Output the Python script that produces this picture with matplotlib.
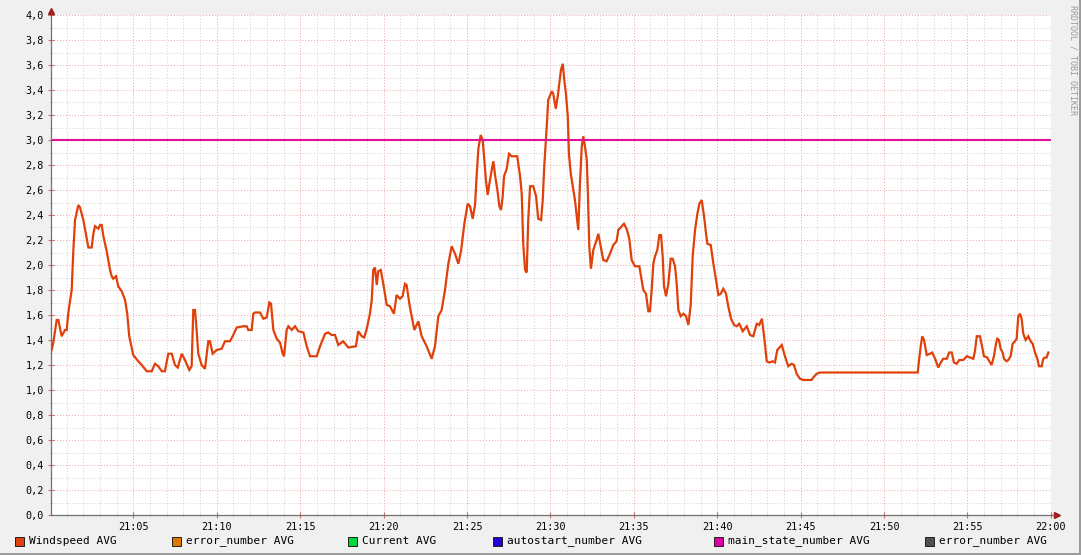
import matplotlib
matplotlib.use('Agg')
import matplotlib.pyplot as plt
import matplotlib.patches as mpatches
from matplotlib.ticker import MultipleLocator, FuncFormatter

plt.rcParams['font.family'] = ['DejaVu Sans Mono']

# ── data: minutes after 21:00, windspeed ─────────────────────────
minutes = [
    0.10, 0.20, 0.40, 0.50, 0.70, 0.90, 1.00, 1.10, 1.30, 1.40,
    1.50, 1.70, 1.80, 2.00, 2.20, 2.30, 2.50, 2.60, 2.70, 2.90,
    3.00, 3.10, 3.20, 3.40, 3.60, 3.70, 3.79, 3.96, 4.09, 4.30,
    4.50, 4.63, 4.75, 4.99, 5.29, 5.50, 5.80, 6.10, 6.29, 6.49,
    6.70, 6.89, 7.09, 7.30, 7.49, 7.66, 7.90, 8.09, 8.35, 8.49,
    8.59, 8.69, 8.79, 8.89, 9.09, 9.29, 9.49, 9.59, 9.75, 9.99,
    10.29, 10.49, 10.79, 10.99, 11.19, 11.59, 11.79, 11.89, 12.09, 12.19,
    12.29, 12.59, 12.79, 12.99, 13.15, 13.25, 13.39, 13.59, 13.79, 13.95,
    14.03, 14.19, 14.29, 14.49, 14.69, 14.89, 15.19, 15.39, 15.59, 15.99,
    16.19, 16.49, 16.68, 16.89, 17.09, 17.28, 17.58, 17.88, 18.34, 18.48,
    18.69, 18.84, 18.99, 19.18, 19.29, 19.38, 19.48, 19.59, 19.68, 19.83,
    19.98, 20.19, 20.38, 20.62, 20.78, 20.98, 21.14, 21.28, 21.38, 21.54,
    21.68, 21.84, 22.08, 22.28, 22.58, 22.88, 23.08, 23.28, 23.48, 23.68,
    23.88, 24.08, 24.28, 24.48, 24.64, 24.84, 25.04, 25.18, 25.34, 25.48,
    25.58, 25.68, 25.82, 25.94, 26.02, 26.14, 26.24, 26.34, 26.48, 26.58,
    26.68, 26.82, 26.94, 27.04, 27.14, 27.22, 27.38, 27.52, 27.68, 28.01,
    28.18, 28.28, 28.37, 28.48, 28.58, 28.67, 28.78, 28.97, 29.14, 29.27,
    29.44, 29.54, 29.63, 29.78, 29.87, 30.08, 30.17, 30.32, 30.44, 30.53,
    30.63, 30.74, 30.83, 30.93, 31.04, 31.11, 31.22, 31.34, 31.47, 31.61,
    31.67, 31.77, 31.88, 31.97, 32.07, 32.18, 32.24, 32.33, 32.43, 32.57,
    32.77, 32.87, 33.01, 33.17, 33.37, 33.57, 33.77, 33.97, 34.07, 34.27,
    34.41, 34.57, 34.73, 34.87, 35.07, 35.33, 35.47, 35.57, 35.73, 35.87,
    35.97, 36.07, 36.17, 36.27, 36.41, 36.53, 36.63, 36.73, 36.81, 36.93,
    37.07, 37.21, 37.33, 37.47, 37.57, 37.67, 37.81, 37.97, 38.13, 38.27,
    38.41, 38.53, 38.67, 38.81, 38.93, 39.07, 39.21, 39.33, 39.41, 39.61,
    39.77, 39.93, 40.07, 40.21, 40.36, 40.53, 40.66, 40.83, 41.01, 41.17,
    41.32, 41.53, 41.77, 41.97, 42.16, 42.37, 42.52, 42.68, 42.81, 42.97,
    43.12, 43.33, 43.46, 43.60, 43.87, 44.06, 44.26, 44.46, 44.60, 44.76,
    44.96, 45.16, 45.66, 45.76, 45.96, 46.16, 52.02, 52.11, 52.20, 52.29,
    52.40, 52.56, 52.76, 52.89, 53.06, 53.25, 53.40, 53.55, 53.76, 53.91,
    54.06, 54.19, 54.36, 54.51, 54.75, 54.96, 55.16, 55.35, 55.45, 55.56,
    55.75, 55.86, 55.99, 56.19, 56.31, 56.45, 56.59, 56.71, 56.79, 56.89,
    56.99, 57.11, 57.19, 57.35, 57.45, 57.59, 57.71, 57.85, 57.95, 58.05,
    58.15, 58.25, 58.35, 58.49, 58.65, 58.79, 58.91, 59.05, 59.19, 59.29,
    59.45, 59.55, 59.65, 59.75, 59.85,
]
windspeed = [
    1.32, 1.38, 1.56, 1.56, 1.43, 1.48, 1.48, 1.62, 1.80, 2.12,
    2.36, 2.48, 2.46, 2.36, 2.21, 2.14, 2.14, 2.25, 2.31, 2.29,
    2.32, 2.32, 2.23, 2.11, 1.96, 1.91, 1.89, 1.91, 1.83, 1.79,
    1.72, 1.61, 1.43, 1.28, 1.23, 1.20, 1.15, 1.15, 1.21, 1.19,
    1.15, 1.15, 1.29, 1.29, 1.20, 1.18, 1.29, 1.24, 1.16, 1.19,
    1.64, 1.64, 1.48, 1.29, 1.20, 1.17, 1.39, 1.39, 1.29, 1.32,
    1.33, 1.39, 1.39, 1.44, 1.50, 1.51, 1.51, 1.48, 1.48, 1.61,
    1.62, 1.62, 1.57, 1.58, 1.70, 1.69, 1.48, 1.41, 1.38, 1.29,
    1.27, 1.48, 1.51, 1.48, 1.51, 1.47, 1.46, 1.35, 1.27, 1.27,
    1.35, 1.45, 1.46, 1.44, 1.44, 1.36, 1.39, 1.34, 1.35, 1.47,
    1.43, 1.42, 1.49, 1.61, 1.72, 1.96, 1.98, 1.84, 1.95, 1.96,
    1.85, 1.68, 1.67, 1.61, 1.76, 1.73, 1.75, 1.85, 1.84, 1.69,
    1.59, 1.48, 1.55, 1.43, 1.35, 1.25, 1.35, 1.59, 1.64, 1.80,
    2.01, 2.15, 2.09, 2.01, 2.11, 2.33, 2.49, 2.47, 2.37, 2.48,
    2.72, 2.93, 3.04, 3.00, 2.87, 2.67, 2.56, 2.65, 2.76, 2.83,
    2.72, 2.60, 2.47, 2.44, 2.55, 2.71, 2.77, 2.89, 2.87, 2.87,
    2.71, 2.57, 2.17, 1.96, 1.94, 2.36, 2.63, 2.63, 2.55, 2.37,
    2.36, 2.52, 2.79, 3.11, 3.32, 3.39, 3.37, 3.25, 3.35, 3.45,
    3.56, 3.61, 3.48, 3.37, 3.19, 2.89, 2.73, 2.63, 2.52, 2.35,
    2.28, 2.65, 2.95, 3.03, 2.95, 2.84, 2.60, 2.15, 1.97, 2.12,
    2.20, 2.25, 2.15, 2.04, 2.03, 2.09, 2.16, 2.19, 2.28, 2.31,
    2.33, 2.29, 2.21, 2.04, 1.99, 1.99, 1.88, 1.80, 1.77, 1.63,
    1.63, 1.80, 2.01, 2.07, 2.12, 2.24, 2.24, 2.07, 1.83, 1.75,
    1.85, 2.05, 2.05, 1.99, 1.85, 1.64, 1.59, 1.61, 1.59, 1.52,
    1.68, 2.07, 2.28, 2.41, 2.49, 2.52, 2.39, 2.25, 2.17, 2.16,
    2.01, 1.88, 1.76, 1.77, 1.81, 1.77, 1.67, 1.57, 1.52, 1.51,
    1.53, 1.47, 1.51, 1.44, 1.43, 1.53, 1.52, 1.57, 1.43, 1.23,
    1.22, 1.23, 1.22, 1.32, 1.36, 1.27, 1.19, 1.21, 1.20, 1.13,
    1.09, 1.08, 1.08, 1.10, 1.13, 1.14, 1.14, 1.25, 1.35, 1.43,
    1.40, 1.28, 1.29, 1.30, 1.25, 1.18, 1.22, 1.25, 1.25, 1.30,
    1.30, 1.22, 1.21, 1.24, 1.24, 1.27, 1.26, 1.25, 1.31, 1.43,
    1.43, 1.36, 1.27, 1.26, 1.23, 1.20, 1.27, 1.37, 1.41, 1.40,
    1.33, 1.30, 1.25, 1.23, 1.24, 1.27, 1.37, 1.39, 1.41, 1.59,
    1.61, 1.57, 1.45, 1.40, 1.43, 1.39, 1.37, 1.30, 1.25, 1.19,
    1.19, 1.25, 1.26, 1.26, 1.30,
]
main_state_level = 3.0

legend_labels = ["Windspeed AVG", "error_number AVG", "Current AVG",
                 "autostart_number AVG", "main_state_number AVG",
                 "error_number AVG"]
legend_colors = ["#E0400C", "#E07800", "#00D840", "#2000D8",
                 "#E000A0", "#505050"]

W, H = 1081, 555
fig = plt.figure(figsize=(W/100, H/100), dpi=100, facecolor='#F0F0F0')
ax = fig.add_axes([51/W, (H-515)/H, 1000/W, 500/H], facecolor='white')

ax.set_xlim(0.06, 60.01)
ax.set_ylim(0, 4.0)

# grid
ax.xaxis.set_major_locator(MultipleLocator(5))
ax.xaxis.set_minor_locator(MultipleLocator(1))
ax.yaxis.set_major_locator(MultipleLocator(0.2))
ax.yaxis.set_minor_locator(MultipleLocator(0.1))
ax.grid(which='minor', color='#CFCFCF', lw=0.7, ls=(0, (1, 2)))
ax.grid(which='major', color='#E8A6A6', lw=0.7, ls=(0, (1, 2)))
ax.set_axisbelow(True)

ax.xaxis.set_major_formatter(FuncFormatter(
    lambda v, p: f"{21 + int(round(v)) // 60}:{int(round(v)) % 60:02d}"))
ax.yaxis.set_major_formatter(FuncFormatter(
    lambda v, p: f"{v:.1f}".replace('.', ',')))
ax.tick_params(which='major', length=4, direction='inout', color='#C07070',
               labelsize=7.3, labelcolor='#000000', pad=3)
ax.tick_params(which='minor', length=2, direction='inout', color='#A0A0A0')
for s in ax.spines.values():
    s.set_visible(False)

# series
ax.plot(minutes, windspeed, color='#E0400A', lw=1.6, zorder=3,
        solid_joinstyle='miter')
ax.axhline(main_state_level, color='#E0109A', lw=1.5, zorder=4)

# axes with arrows
ax.plot([0, 0], [0, 1.0], color='#707070', lw=0.9,
        transform=ax.transAxes, clip_on=False, zorder=5)
ax.plot([0, 1.006], [0, 0], color='#707070', lw=0.9,
        transform=ax.transAxes, clip_on=False, zorder=5)
ax.plot([0], [1.008], marker='^', ms=4.5, color='#A02020',
        transform=ax.transAxes, clip_on=False, zorder=6)
ax.plot([1.006], [0], marker='>', ms=4.5, color='#A02020',
        transform=ax.transAxes, clip_on=False, zorder=6)

# legend
box_x = [15, 172, 348, 493, 714, 925]
for x0, lab, col in zip(box_x, legend_labels, legend_colors):
    fig.patches.append(mpatches.Rectangle(
        (x0/W, (H-546)/H), 9/W, 9/H, transform=fig.transFigure,
        facecolor=col, edgecolor='#202020', lw=0.7))
    fig.text((x0+14)/W, (H-541)/H, lab, fontsize=8, va='center',
             ha='left', color='#000000')

# watermark
fig.text(1073/W, (H-5)/H, "RRDTOOL / TOBI OETIKER", rotation=270,
         fontsize=6, color='#9A9A9A', ha='center', va='top')

# 3d frame
fig.patches.append(mpatches.Rectangle((0, 0), 1, 2.5/H, transform=fig.transFigure,
                                      facecolor='#9C9C9C', lw=0))
fig.patches.append(mpatches.Rectangle((1-2.5/W, 0), 2.5/W, 1, transform=fig.transFigure,
                                      facecolor='#9C9C9C', lw=0))

fig.savefig('out.png', dpi=100, facecolor=fig.get_facecolor())
